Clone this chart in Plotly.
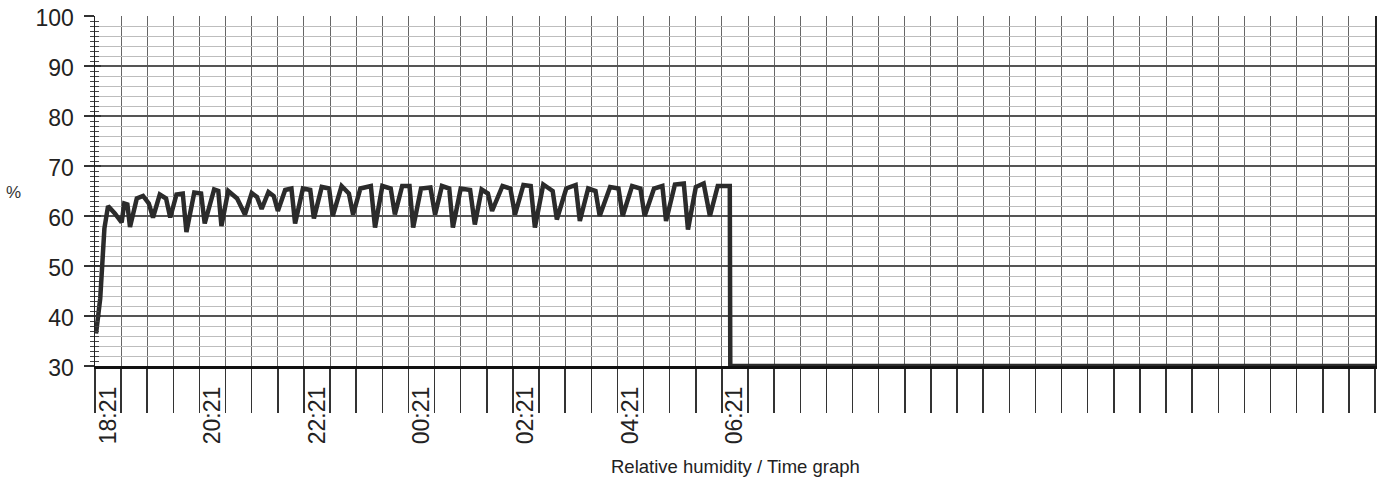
import plotly.graph_objects as go

# Time in hours from the left edge of the chart, relative humidity in %
hours = [0.02, 0.10, 0.18, 0.25, 0.38, 0.51, 0.56, 0.62, 0.67, 0.80, 0.92, 1.03, 1.11,
         1.24, 1.36, 1.44, 1.56, 1.68, 1.75, 1.90, 2.03, 2.10, 2.28, 2.36, 2.42, 2.55,
         2.72, 2.87, 3.00, 3.10, 3.19, 3.32, 3.42, 3.50, 3.64, 3.76, 3.83, 3.98, 4.12,
         4.19, 4.34, 4.48, 4.55, 4.72, 4.86, 4.94, 5.08, 5.28, 5.36, 5.50, 5.66, 5.74,
         5.88, 6.02, 6.09, 6.24, 6.42, 6.51, 6.64, 6.78, 6.85, 7.00, 7.18, 7.27, 7.40,
         7.52, 7.60, 7.80, 7.95, 8.04, 8.20, 8.34, 8.42, 8.58, 8.76, 8.84, 9.02, 9.20,
         9.28, 9.44, 9.58, 9.66, 9.86, 10.02, 10.10, 10.28, 10.44, 10.52, 10.70, 10.86,
         10.93, 11.10, 11.27, 11.35, 11.50, 11.65, 11.77, 11.92, 12.15, 12.16, 24.5]
humidity = [36.5, 43.5, 57.5, 62.0, 60.5, 58.7, 62.5, 62.3, 57.8, 63.5, 64.0, 62.5, 59.7,
            64.3, 63.5, 59.7, 64.3, 64.5, 56.8, 64.7, 64.5, 58.5, 65.3, 65.0, 58.0, 65.0,
            63.5, 60.3, 64.6, 63.8, 61.4, 64.8, 64.0, 61.0, 65.2, 65.5, 58.5, 65.5, 65.2,
            59.5, 65.8, 65.5, 60.0, 66.0, 64.5, 60.3, 65.5, 66.0, 57.7, 66.0, 65.5, 60.3,
            66.0, 66.0, 57.7, 65.5, 65.7, 60.3, 66.0, 65.5, 57.7, 65.5, 65.2, 58.3, 65.3,
            64.5, 61.0, 66.0, 65.5, 60.3, 66.2, 66.0, 57.7, 66.3, 65.0, 59.3, 65.5, 66.2,
            59.0, 65.5, 65.0, 60.0, 65.8, 65.5, 60.0, 66.0, 65.5, 60.0, 65.5, 66.0,
            59.0, 66.3, 66.5, 57.3, 65.8, 66.5, 60.0, 66.0, 66.0, 30.0, 30.0]

tick_positions = [0.25, 2.25, 4.25, 6.25, 8.25, 10.25, 12.25]
tick_labels = ["18:21", "20:21", "22:21", "00:21", "02:21", "04:21", "06:21"]

X_RANGE = [0, 24.5]
Y_RANGE = [30, 100]
FONT = "Liberation Sans, Arial, sans-serif"

fig = go.Figure()
fig.add_trace(go.Scatter(
    x=hours, y=humidity, mode="lines",
    line=dict(color="#2b2b2b", width=4.5),
    showlegend=False, hoverinfo="skip",
))

fig.update_layout(
    width=1382, height=481,
    margin=dict(l=95, r=7, t=16, b=115, autoexpand=False),
    paper_bgcolor="white", plot_bgcolor="white",
    font=dict(family=FONT, color="#222", size=23),
    xaxis=dict(
        range=X_RANGE, automargin=False,
        tickmode="array", tickvals=tick_positions, ticktext=tick_labels,
        tickangle=-90, ticks="", showgrid=False,
        tickfont=dict(size=23, color="#222"),
        ticklabelstandoff=9, ticklabeloverflow="allow",
        showline=True, linecolor="#111", linewidth=2.5,
        zeroline=False,
        minor=dict(dtick=0.5, tick0=0, ticks="outside", ticklen=44,
                   tickcolor="#333", tickwidth=1.5,
                   showgrid=True, gridcolor="#666", gridwidth=1),
    ),
    yaxis=dict(
        range=Y_RANGE, dtick=10, tick0=0, automargin=False,
        showgrid=True, gridcolor="#555", gridwidth=1.2,
        ticks="outside", ticklen=10, tickcolor="#333", tickwidth=1.2,
        tickfont=dict(size=23, color="#222"),
        ticklabelstandoff=5, ticklabelshift=2, ticklabeloverflow="allow",
        showline=True, linecolor="#222", linewidth=1.5, mirror=True,
        zeroline=False,
        minor=dict(dtick=1, ticks="outside", ticklen=4, tickcolor="#444",
                   tickwidth=1, showgrid=False),
    ),
    yaxis2=dict(
        range=Y_RANGE, overlaying="y", side="left", automargin=False,
        showticklabels=False, showgrid=False, zeroline=False, showline=False,
        dtick=10, tick0=0, ticks="inside", ticklen=6, tickcolor="#333", tickwidth=1.2,
        minor=dict(dtick=1, ticks="inside", ticklen=4, tickcolor="#444",
                   tickwidth=1, showgrid=False),
    ),
    yaxis3=dict(
        range=Y_RANGE, overlaying="y", side="left", automargin=False,
        showticklabels=False, showgrid=False, zeroline=False, showline=False,
        ticks="",
        minor=dict(dtick=2, tick0=0, showgrid=True, gridcolor="#bdbdbd", gridwidth=1),
    ),
    annotations=[
        dict(text="%", xref="paper", yref="paper", x=-0.0633, y=0.497,
             xanchor="center", yanchor="middle",
             showarrow=False, font=dict(size=17, color="#333", family=FONT)),
        dict(text="Relative humidity / Time graph", xref="paper", yref="paper",
             x=0.5, y=-0.286, xanchor="center", yanchor="middle", showarrow=False,
             font=dict(size=18.5, color="#222", family=FONT)),
    ],
)

# invisible traces so the overlay axes are drawn
fig.add_trace(go.Scatter(x=[None], y=[None], yaxis="y2", showlegend=False, hoverinfo="skip"))
fig.add_trace(go.Scatter(x=[None], y=[None], yaxis="y3", showlegend=False, hoverinfo="skip"))

fig.write_html(
    "out.html",
    config={"displayModeBar": False, "staticPlot": True},
    post_script="document.body.style.margin='0';document.body.style.overflow='hidden';",
)
